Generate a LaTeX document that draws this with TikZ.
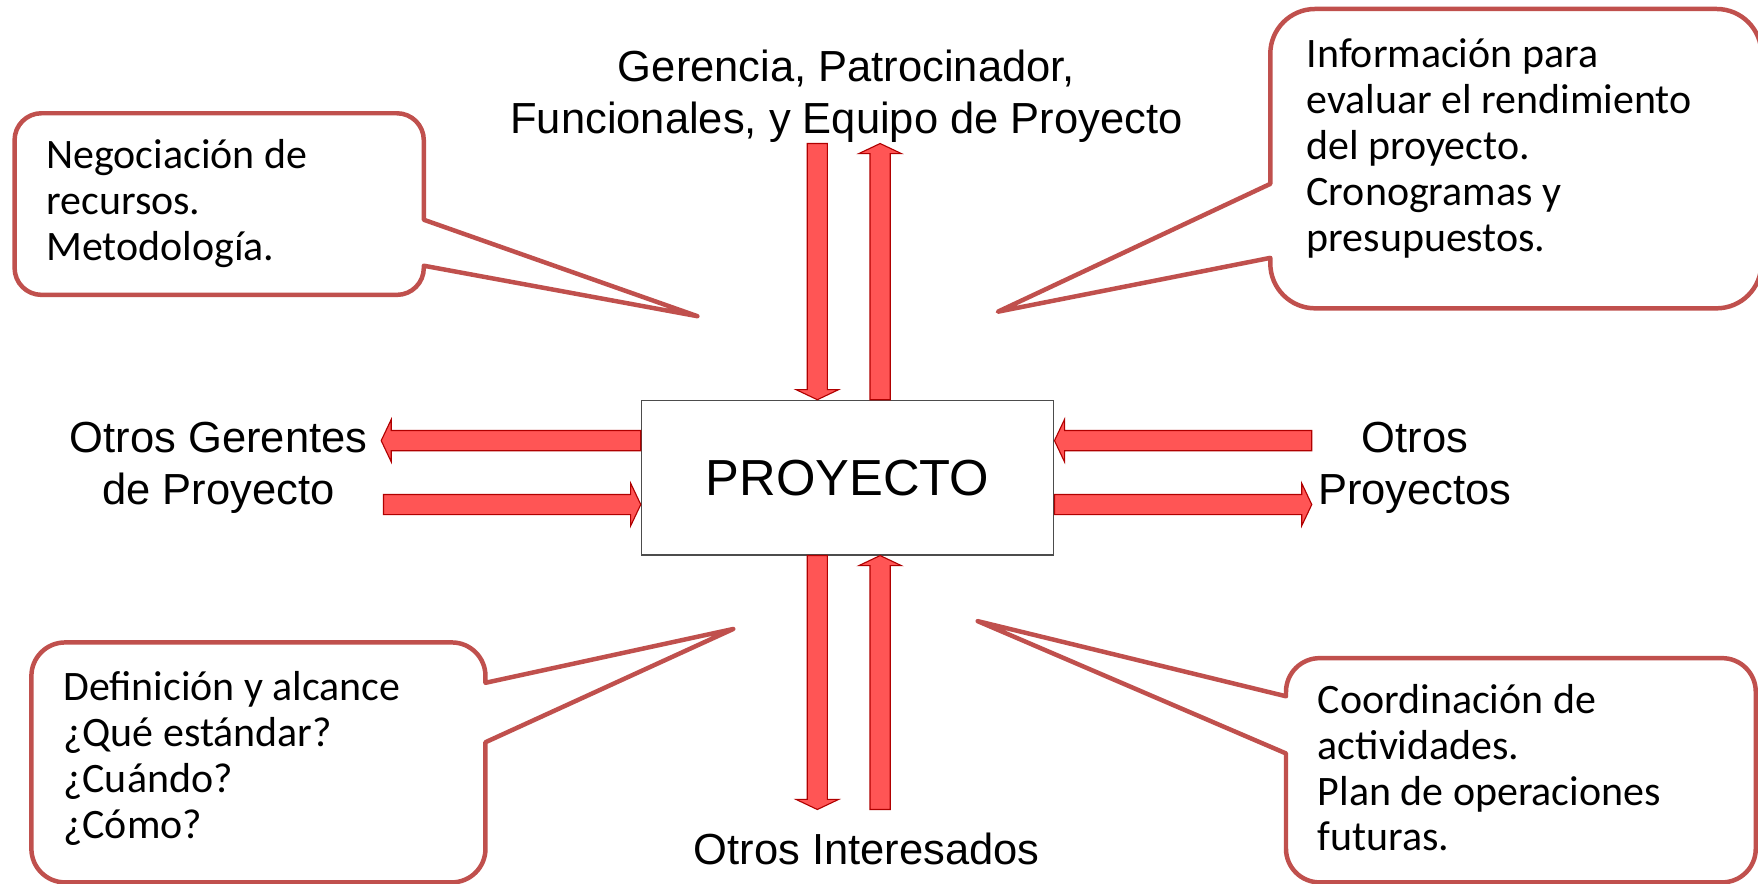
\documentclass[tikz,border=0pt]{standalone}
\usepackage{fontspec}
\setmainfont{Liberation Sans}
\newfontfamily\calloutfont{Carlito}
\usetikzlibrary{calc}
\definecolor{arrowfill}{HTML}{FF5555}
\definecolor{arrowline}{HTML}{B00000}
\definecolor{bubbleline}{HTML}{C0504D}
\newcommand{\blockarrow}[2]{%
  \coordinate (hb) at ($(#2)!4.5pt!(#1)$);
  \draw[blockarrow] ($(#1)!4.5pt!90:(#2)$) -- ($(hb)!4.5pt!-90:(#1)$) -- ($(hb)!9.5pt!-90:(#1)$) -- (#2)
    -- ($(hb)!9.5pt!90:(#1)$) -- ($(hb)!4.5pt!90:(#1)$) -- ($(#1)!4.5pt!-90:(#2)$) -- cycle;}
\begin{document}
\begin{tikzpicture}[x=0.5pt,y=-0.5pt,
  blockarrow/.style={fill=arrowfill, draw=arrowline, line width=0.5pt},
  bubble/.style={draw=bubbleline, line width=2pt, line join=round},
  calltext/.style={anchor=base west, inner sep=0pt, align=left, font=\calloutfont\fontsize{18.7}{20.5}\selectfont},
  party/.style={align=center, inner sep=0pt, font=\fontsize{19.4}{23}\selectfont}]
\fill[white] (0,0) rectangle (1568,788);
\useasboundingbox (0,0) rectangle (1568,788);
\node[draw=black!70, line width=0.5pt, minimum width=184pt, minimum height=69pt, font=\fontsize{22.6}{26}\selectfont] (box) at (756,426) {PROYECTO};
\node[party] (gerencia) at (755,86) {Gerencia, Patrocinador,\\Funcionales, y Equipo de Proyecto};
\node[party] (gerentes) at (195,417) {Otros Gerentes\\de Proyecto};
\node[party] (proyectos) at (1262,417) {Otros\\Proyectos};
\node[party] (interesados) at (773,757) {Otros Interesados};
\coordinate (gd) at (729,128); \coordinate (gdt) at (gd |- box.north);
\coordinate (gu) at (785,128); \coordinate (gut) at (gu |- box.north);
\coordinate (bd) at (729,722); \coordinate (bdt) at (bd |- box.south);
\coordinate (bu) at (785,722); \coordinate (but) at (bu |- box.south);
\coordinate (lo) at (340,393); \coordinate (lot) at (lo -| box.west);
\coordinate (li) at (342,450); \coordinate (lit) at (li -| box.west);
\coordinate (ri) at (1170,393); \coordinate (rit) at (ri -| box.east);
\coordinate (ro) at (1170,450); \coordinate (rot) at (ro -| box.east);
\blockarrow{gd}{gdt}
\blockarrow{gut}{gu}
\blockarrow{bdt}{bd}
\blockarrow{bu}{but}
\blockarrow{lot}{lo}
\blockarrow{li}{lit}
\blockarrow{ri}{rit}
\blockarrow{rot}{ro}
\coordinate (tl) at (622,282);
\coordinate (tr) at (890,278);
\coordinate (bl) at (654,561);
\coordinate (br) at (872,554);
\draw[bubble, rounded corners=12pt] (200,101) -- (378,101) [sharp corners] -- (378,196) -- (tl) -- (378,237) [rounded corners=12pt] -- (378,263) -- (13,263) -- (13,101) -- cycle;
\draw[bubble, rounded corners=20pt] (1350,8) -- (1571,8) -- (1571,275) -- (1133,275) [sharp corners] -- (1133,230) -- (tr) -- (1133,164) [rounded corners=20pt] -- (1133,8) -- cycle;
\draw[bubble, rounded corners=15pt] (230,573) -- (433,573) [sharp corners] -- (433,609) -- (bl) -- (433,662) [rounded corners=15pt] -- (433,787) -- (28,787) -- (28,573) -- cycle;
\draw[bubble, rounded corners=15pt] (1350,587) -- (1566,587) -- (1566,787) -- (1147,787) [sharp corners] -- (1147,672) -- (br) -- (1147,621) [rounded corners=15pt] -- (1147,587) -- cycle;
\node[calltext] (negociacion) at (41,232) {Negociación de\\recursos.\\Metodología.};
\node[calltext] (informacion) at (1165,224) {Información para\\evaluar el rendimiento\\del proyecto.\\Cronogramas y\\presupuestos.};
\node[calltext] (definicion) at (56,748) {Definición y alcance\\¿Qué estándar?\\¿Cuándo?\\¿Cómo?};
\node[calltext] (coordinacion) at (1175,759) {Coordinación de\\actividades.\\Plan de operaciones\\futuras.};
\end{tikzpicture}
\end{document}
